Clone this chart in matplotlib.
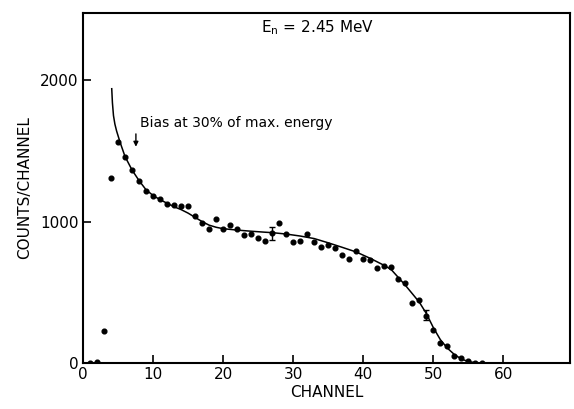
import matplotlib
matplotlib.use("Agg")
import matplotlib.pyplot as plt

# Measured points (channel, counts)
channels = [1, 2, 3, 4, 5, 6, 7, 8, 9, 10, 11, 12, 13, 14, 15, 16, 17, 18, 19, 20,
            21, 22, 23, 24, 25, 26, 27, 28, 29, 30, 31, 32, 33, 34, 35, 36, 37, 38, 39, 40,
            41, 42, 43, 44, 45, 46, 47, 48, 49, 50, 51, 52, 53, 54, 55, 56, 57]
counts = [3, 5, 225, 1310, 1560, 1458, 1364, 1286, 1218, 1182, 1161, 1128, 1117, 1110, 1112, 1039, 992, 945, 1018, 950,
          975, 950, 908, 914, 883, 860, 918, 992, 910, 853, 863, 912, 856, 821, 833, 815, 763, 733, 790, 733,
          725, 672, 683, 681, 591, 567, 424, 444, 330, 236, 140, 123, 49, 38, 13, 0, 0]

# Error bars
err_channels = [27, 49]
err_counts = [918, 340]
err_sizes = [47, 33]

# Fitted curve
curve_x = [4.1, 4.2, 4.35, 4.55, 4.8, 5.3, 6, 7, 8, 9, 10, 11, 12, 13, 14, 15, 16, 17, 18, 19, 20,
           22, 24, 26, 27, 29, 31, 33, 35, 37, 39, 41, 43, 44, 45, 46, 47, 48, 49, 50,
           51, 52, 53, 54, 55, 56, 56.5]
curve_y = [1940, 1840, 1750, 1690, 1640, 1560, 1460, 1365, 1290, 1225, 1185, 1155, 1130, 1105, 1085, 1060, 1030, 1000, 975, 960, 950,
           940, 932, 925, 922, 912, 898, 880, 850, 818, 785, 740, 690, 660, 605, 550, 490, 430, 350, 250,
           165, 105, 60, 28, 10, 2, 0]

x_ticks = [0, 10, 20, 30, 40, 50, 60]
y_ticks = [0, 1000, 2000]

fig = plt.figure(figsize=(5.74, 4.09), dpi=100)
ax = fig.add_axes([0.1446, 0.1125, 0.8484, 0.8555])

ax.plot(curve_x, curve_y, color="black", lw=1.1)
ax.plot(channels, counts, "o", color="black", ms=3.4)
ax.errorbar(err_channels, err_counts, yerr=err_sizes, fmt="none", ecolor="black",
            elinewidth=1.0, capsize=2.5)

ax.set_xlim(0, 69.5)
ax.set_ylim(0, 2475)
ax.set_xticks(x_ticks)
ax.set_yticks(y_ticks)
ax.tick_params(direction="in", length=6, width=1.2, labelsize=11, pad=3)
for s in ax.spines.values():
    s.set_linewidth(1.5)

ax.set_xlabel("CHANNEL", fontsize=11, labelpad=2)
ax.set_ylabel("COUNTS/CHANNEL", fontsize=11, labelpad=6)

ax.text(33.5, 2375, r"E$_\mathregular{n}$ = 2.45 MeV", fontsize=11, ha="center", va="center")
ax.text(8.1, 1700, "Bias at 30% of max. energy", fontsize=10, ha="left", va="center")
ax.annotate("", xy=(7.55, 1510), xytext=(7.55, 1640),
            arrowprops=dict(arrowstyle="-|>", color="black", lw=1.0, mutation_scale=7))

fig.savefig("out.png", dpi=100)
